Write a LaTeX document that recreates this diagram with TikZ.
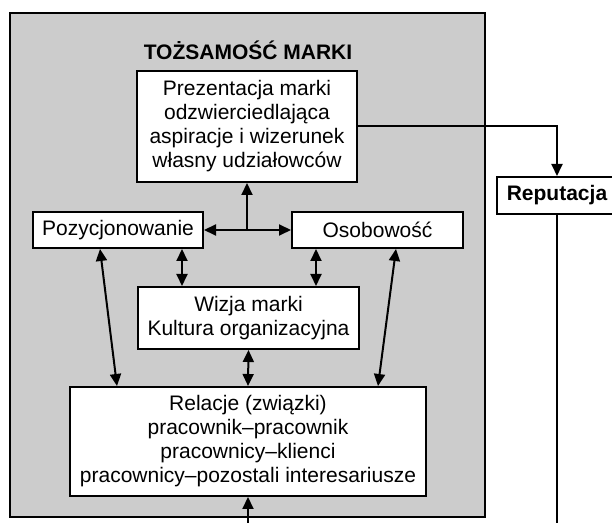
\documentclass[tikz,border=0pt]{standalone}
\usepackage{fontspec}
\setmainfont{Liberation Sans}
\usetikzlibrary{arrows.meta}

\begin{document}
\begin{tikzpicture}[x=0.5pt,y=-0.5pt,>={Triangle[length=6pt,width=5.5pt]},
  font=\fontsize{10.5}{12}\selectfont,
  box/.style={draw,line width=1pt,fill=white,align=center,inner sep=0pt},
  link/.style={line width=1pt}]
  \useasboundingbox (0,0) rectangle (612,523);
  % grey frame of the brand identity
  \draw[line width=1pt,fill=black!20] (10,13) rectangle (485,517);
  \node[font=\fontsize{10.5}{12}\selectfont\bfseries] (title) at (248,50) {TOŻSAMOŚĆ MARKI};
  \node[box,minimum width=110pt,minimum height=55.5pt] (prez) at (247,126.5)
     {Prezentacja marki\\odzwierciedlająca\\aspiracje i wizerunek\\własny udziałowców};
  \node[box,minimum width=85pt,minimum height=18pt] (pozyc) at (118,230) {Pozycjonowanie};
  \node[box,minimum width=85.5pt,minimum height=18pt] (osob) at (377.5,230) {Osobowość};
  \node[box,minimum width=110.5pt,minimum height=31pt] (wizja) at (248.5,318)
     {Wizja marki\\Kultura organizacyjna};
  \node[box,minimum width=178pt,minimum height=54.5pt] (relacje) at (248,441.5)
     {Relacje (związki)\\pracownik–pracownik\\pracownicy–klienci\\pracownicy–pozostali interesariusze};
  \node[box,font=\fontsize{10.5}{12}\selectfont\bfseries,minimum width=60pt,minimum height=18.5pt]
     (reput) at (557,195.5) {Reputacja};
  % connectors
  \coordinate (hub) at (prez.south |- pozyc.east);
  \draw[link,<->] (pozyc.east) -- (osob.west);
  \draw[link,->] (hub) -- (prez.south);
  \draw[link,<->] ([xshift=32pt]pozyc.south) -- ([xshift=32pt]pozyc.south |- wizja.north);
  \draw[link,<->] ([xshift=-30.75pt]osob.south) -- ([xshift=-30.75pt]osob.south |- wizja.north);
  \draw[link,<->] ([xshift=-9pt]pozyc.south) -- ([xshift=-65.5pt]relacje.north);
  \draw[link,<->] ([xshift=9.25pt]osob.south) -- ([xshift=65pt]relacje.north);
  \draw[link,<->] (wizja.south) -- (relacje.north);
  \draw[link,->] (prez.east) -| (reput.north);
  \coordinate (outlet) at (reput.south |- 0,530);
  \draw[link] (reput.south) -- (outlet);
  \coordinate (inlet) at (relacje.south |- 0,530);
  \draw[link,->] (inlet) -- (relacje.south);
\end{tikzpicture}
\end{document}
